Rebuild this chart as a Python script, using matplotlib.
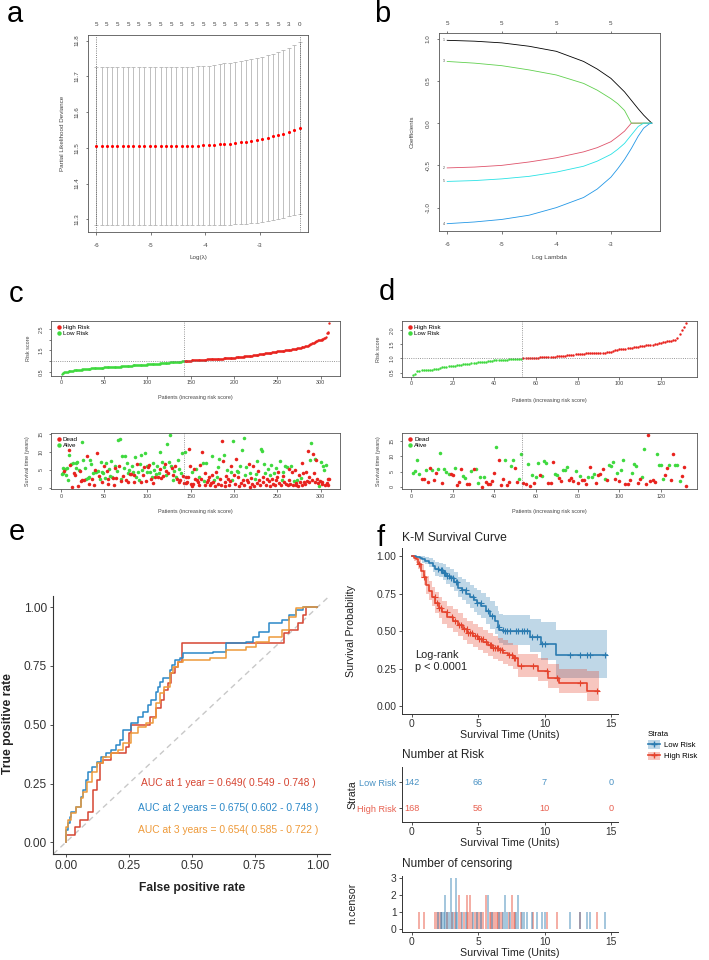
import numpy as np
import matplotlib
matplotlib.use("Agg")
import matplotlib.pyplot as plt
from matplotlib.lines import Line2D
from matplotlib.patches import Patch

plt.rcParams['font.family'] = ['Liberation Sans', 'DejaVu Sans']
plt.rcParams['axes.unicode_minus'] = False

# ---------------- data ----------------
# a: cross-validation curve
cv_loglam = [-6.00, -5.90, -5.81, -5.71, -5.61, -5.51, -5.41, -5.32, -5.22, -5.12,
             -5.02, -4.92, -4.82, -4.73, -4.63, -4.53, -4.43, -4.33, -4.24, -4.14,
             -4.04, -3.94, -3.84, -3.74, -3.65, -3.55, -3.45, -3.35, -3.25, -3.16,
             -3.06, -2.96, -2.86, -2.76, -2.67, -2.57, -2.47, -2.37, -2.27]
cv_mean = [11.505, 11.505, 11.505, 11.505, 11.505, 11.505, 11.505, 11.505, 11.505, 11.505,
           11.505, 11.505, 11.505, 11.505, 11.505, 11.505, 11.506, 11.506, 11.506, 11.506,
           11.507, 11.508, 11.509, 11.510, 11.511, 11.512, 11.514, 11.515, 11.517, 11.519,
           11.522, 11.525, 11.528, 11.532, 11.536, 11.540, 11.545, 11.550, 11.555]
cv_upper = [11.725, 11.725, 11.725, 11.725, 11.725, 11.725, 11.725, 11.725, 11.725, 11.725,
            11.725, 11.725, 11.725, 11.725, 11.725, 11.725, 11.726, 11.726, 11.727, 11.728,
            11.729, 11.730, 11.732, 11.734, 11.736, 11.738, 11.740, 11.742, 11.745, 11.748,
            11.751, 11.755, 11.759, 11.763, 11.768, 11.774, 11.780, 11.787, 11.795]
cv_lower = [11.285, 11.285, 11.285, 11.285, 11.285, 11.285, 11.285, 11.285, 11.285, 11.285,
            11.285, 11.285, 11.285, 11.285, 11.285, 11.285, 11.285, 11.285, 11.285, 11.285,
            11.285, 11.285, 11.285, 11.285, 11.285, 11.285, 11.286, 11.287, 11.288, 11.289,
            11.291, 11.293, 11.295, 11.298, 11.301, 11.304, 11.308, 11.312, 11.316]
cv_nz = [5, 5, 5, 5, 5, 5, 5, 5, 5, 5, 5, 5, 5, 5, 5, 5, 5, 5, 3, 0]

# b: coefficient paths
path_loglam = [-6.0, -5.5, -5.0, -4.5, -4.0, -3.5, -3.25, -3.0, -2.875, -2.75, -2.625, -2.5, -2.4, -2.3, -2.25]
coef_g1 = [0.98, 0.97, 0.95, 0.91, 0.85, 0.73, 0.64, 0.53, 0.45, 0.37, 0.27, 0.17, 0.095, 0.03, 0.0]
coef_g2 = [-0.53, -0.52, -0.50, -0.46, -0.41, -0.34, -0.29, -0.22, -0.16, -0.095, 0.0, 0.0, 0.0, 0.0, 0.0]
coef_g3 = [0.73, 0.71, 0.68, 0.63, 0.57, 0.47, 0.39, 0.29, 0.23, 0.15, 0.0, 0.0, 0.0, 0.0, 0.0]
coef_g4 = [-1.19, -1.17, -1.14, -1.09, -1.00, -0.88, -0.78, -0.64, -0.54, -0.43, -0.30, -0.155, -0.06, -0.01, 0.0]
coef_g5 = [-0.69, -0.68, -0.66, -0.63, -0.58, -0.51, -0.45, -0.37, -0.31, -0.24, -0.14, -0.04, 0.0, 0.0, 0.0]
path_df_at = [-6, -5, -4, -3]
path_df = [5, 5, 5, 5]

# c: training cohort, sorted risk score, survival time, status (1 = dead)
c_nlow = 142
c_cutoff = 1.0
c_risk = [0.42, 0.44, 0.46, 0.48, 0.49, 0.50, 0.51, 0.52, 0.53, 0.54,
          0.55, 0.55, 0.56, 0.56, 0.57, 0.57, 0.58, 0.58, 0.59, 0.59,
          0.60, 0.60, 0.61, 0.61, 0.62, 0.62, 0.62, 0.63, 0.63, 0.64,
          0.64, 0.65, 0.65, 0.65, 0.66, 0.66, 0.66, 0.67, 0.67, 0.67,
          0.68, 0.68, 0.69, 0.69, 0.69, 0.70, 0.70, 0.70, 0.70, 0.71,
          0.71, 0.71, 0.71, 0.72, 0.72, 0.72, 0.72, 0.73, 0.73, 0.73,
          0.73, 0.74, 0.74, 0.74, 0.74, 0.75, 0.75, 0.75, 0.75, 0.76,
          0.76, 0.76, 0.77, 0.77, 0.77, 0.78, 0.78, 0.78, 0.78, 0.79,
          0.79, 0.79, 0.80, 0.80, 0.80, 0.81, 0.81, 0.81, 0.82, 0.82,
          0.82, 0.82, 0.83, 0.83, 0.83, 0.84, 0.84, 0.84, 0.84, 0.85,
          0.85, 0.85, 0.86, 0.86, 0.86, 0.87, 0.87, 0.87, 0.88, 0.88,
          0.88, 0.89, 0.89, 0.89, 0.90, 0.90, 0.90, 0.91, 0.91, 0.91,
          0.92, 0.92, 0.93, 0.93, 0.93, 0.94, 0.94, 0.95, 0.95, 0.95,
          0.96, 0.96, 0.96, 0.97, 0.97, 0.97, 0.98, 0.98, 0.98, 0.99,
          0.99, 1.00,
          1.00, 1.00, 1.01, 1.01, 1.01, 1.02, 1.02, 1.02,
          1.03, 1.03, 1.03, 1.04, 1.04, 1.04, 1.05, 1.05, 1.05, 1.05,
          1.06, 1.06, 1.06, 1.06, 1.07, 1.07, 1.07, 1.07, 1.08, 1.08,
          1.08, 1.08, 1.09, 1.09, 1.09, 1.09, 1.10, 1.10, 1.10, 1.11,
          1.11, 1.11, 1.11, 1.12, 1.12, 1.12, 1.12, 1.13, 1.13, 1.13,
          1.13, 1.14, 1.14, 1.14, 1.14, 1.15, 1.15, 1.15, 1.16, 1.16,
          1.16, 1.17, 1.17, 1.18, 1.18, 1.19, 1.19, 1.20, 1.20, 1.21,
          1.21, 1.22, 1.22, 1.23, 1.23, 1.24, 1.24, 1.25, 1.25, 1.26,
          1.26, 1.27, 1.27, 1.28, 1.29, 1.29, 1.30, 1.30, 1.31, 1.32,
          1.32, 1.33, 1.34, 1.34, 1.35, 1.36, 1.36, 1.37, 1.38, 1.38,
          1.39, 1.40, 1.40, 1.41, 1.42, 1.42, 1.43, 1.44, 1.44, 1.45,
          1.46, 1.46, 1.47, 1.47, 1.48, 1.48, 1.49, 1.49, 1.50, 1.50,
          1.51, 1.51, 1.52, 1.52, 1.53, 1.53, 1.54, 1.55, 1.55, 1.56,
          1.57, 1.58, 1.59, 1.60, 1.61, 1.62, 1.63, 1.64, 1.65, 1.66,
          1.67, 1.68, 1.69, 1.70, 1.72, 1.74, 1.76, 1.78, 1.80, 1.82,
          1.84, 1.86, 1.88, 1.90, 1.92, 1.94, 1.96, 1.97, 1.98, 1.99,
          2.00, 2.02, 2.04, 2.06, 2.08, 2.10, 2.30, 2.32, 2.35, 2.78]
c_time = [3.8, 4.2, 5.5, 4.8, 5.2, 3.5, 5.6, 2.1, 10.7, 9.2,
          6.3, 6.6, 0.1, 6.8, 4.0, 3.5, 7.0, 5.5, 7.3, 0.5,
          5.0, 4.8, 1.8, 2.0, 12.7, 7.9, 2.0, 5.5, 2.3, 8.8,
          2.6, 3.0, 0.9, 7.8, 6.5, 2.5, 4.0, 0.8, 4.5, 5.0,
          4.3, 9.6, 4.8, 3.3, 2.5, 7.3, 4.5, 1.7, 4.0, 6.0,
          2.7, 7.0, 4.7, 2.5, 1.0, 5.2, 3.2, 7.6, 3.0, 2.8,
          0.6, 5.5, 6.0, 2.8, 4.8, 13.4, 6.2, 13.6, 1.8, 2.5,
          8.8, 3.3, 5.5, 8.8, 2.0, 6.8, 1.6, 4.0, 5.0, 3.8,
          3.8, 6.2, 4.3, 3.6, 1.6, 8.6, 3.0, 6.5, 4.5, 2.0,
          6.6, 9.1, 1.6, 5.0, 3.5, 5.7, 9.6, 1.8, 6.0, 4.5,
          5.8, 6.3, 4.5, 2.5, 3.0, 1.3, 6.8, 5.0, 2.9, 3.8,
          6.2, 3.0, 4.0, 10.0, 5.2, 2.6, 7.2, 3.3, 5.8, 6.5,
          4.8, 3.5, 12.2, 4.0, 7.1, 14.7, 6.2, 5.5, 2.0, 3.6,
          4.6, 6.0, 3.0, 2.5, 7.8, 1.5, 5.3, 2.2, 4.0, 9.8,
          3.2, 1.2,
          10.0, 1.2, 3.0, 1.5, 2.9, 11.0, 6.0, 1.0,
          0.5, 4.5, 1.0, 5.2, 2.5, 5.3, 2.0, 1.5, 0.8, 3.0,
          6.3, 2.5, 10.0, 7.0, 1.8, 0.8, 4.0, 6.8, 1.5, 2.0,
          3.0, 0.8, 1.2, 9.0, 3.5, 1.5, 2.0, 0.5, 4.5, 3.0,
          5.7, 1.0, 8.0, 2.5, 0.8, 13.1, 7.5, 9.2, 1.5, 0.5,
          3.3, 5.0, 2.5, 0.7, 1.8, 4.3, 6.0, 2.0, 13.1, 3.5,
          1.0, 8.0, 4.7, 3.0, 4.5, 0.5, 6.1, 1.2, 10.5, 2.0,
          14.1, 0.8, 3.5, 5.7, 2.0, 1.5, 6.5, 0.3, 4.0, 2.8,
          1.0, 6.0, 0.5, 2.3, 3.8, 7.5, 1.2, 4.8, 2.0, 0.6,
          11.0, 10.2, 3.0, 1.5, 6.5, 4.0, 0.8, 2.5, 5.3, 1.8,
          3.5, 0.5, 6.3, 2.5, 1.0, 4.2, 0.8, 5.5, 2.0, 3.0,
          4.3, 1.2, 7.5, 0.6, 2.2, 3.3, 4.5, 1.5, 6.0, 0.9,
          5.8, 0.7, 2.0, 5.3, 1.0, 6.0, 4.5, 0.6, 1.8, 5.0,
          0.8, 1.2, 2.0, 0.5, 3.5, 1.5, 2.8, 0.8, 6.8, 4.0,
          1.6, 1.0, 4.5, 1.8, 10.2, 3.0, 1.5, 7.8, 12.6, 2.0,
          9.4, 4.2, 1.5, 8.1, 7.8, 2.5, 1.2, 0.5, 1.8, 7.2,
          1.5, 1.0, 6.0, 5.0, 0.8, 6.3, 1.3, 2.3, 0.6, 2.3]
c_dead = [0, 0, 0, 1, 0, 0, 0, 0, 1, 0,
          1, 0, 1, 0, 1, 1, 0, 0, 0, 1,
          0, 1, 1, 1, 0, 0, 1, 0, 0, 1,
          0, 0, 1, 0, 0, 1, 0, 1, 0, 1,
          0, 1, 0, 1, 0, 0, 0, 1, 0, 1,
          0, 0, 1, 1, 1, 0, 0, 0, 0, 1,
          1, 1, 0, 1, 0, 0, 1, 0, 1, 0,
          0, 1, 0, 0, 1, 0, 1, 0, 0, 1,
          1, 0, 0, 1, 1, 0, 0, 1, 0, 0,
          0, 0, 1, 0, 1, 1, 0, 1, 0, 0,
          1, 1, 0, 1, 0, 1, 0, 0, 1, 0,
          0, 1, 0, 0, 1, 1, 0, 1, 0, 1,
          1, 0, 0, 1, 0, 0, 0, 1, 0, 1,
          0, 1, 0, 1, 0, 1, 0, 1, 0, 0,
          1, 1,
          0, 1, 1, 1, 1, 1, 1, 1,
          1, 0, 1, 1, 1, 0, 1, 1, 1, 0,
          1, 1, 1, 0, 0, 1, 1, 0, 1, 1,
          1, 1, 1, 0, 1, 1, 0, 1, 1, 0,
          0, 1, 0, 1, 1, 1, 1, 0, 1, 1,
          1, 0, 1, 1, 1, 0, 1, 0, 0, 1,
          1, 1, 0, 1, 0, 1, 0, 1, 0, 1,
          0, 1, 0, 0, 1, 1, 1, 1, 0, 1,
          1, 1, 1, 0, 0, 0, 1, 1, 1, 1,
          0, 0, 1, 1, 0, 0, 1, 1, 0, 1,
          0, 1, 0, 1, 1, 0, 1, 0, 1, 1,
          1, 1, 0, 1, 0, 1, 0, 1, 0, 1,
          0, 1, 1, 1, 1, 0, 1, 1, 0, 1,
          1, 1, 0, 1, 1, 1, 0, 1, 1, 1,
          1, 1, 1, 1, 1, 1, 1, 0, 0, 1,
          1, 1, 1, 0, 1, 1, 1, 0, 1, 0,
          1, 1, 0, 0, 1, 0, 1, 1, 1, 1]
c_risk_ticks = [0.5, 1.0, 1.5, 2.0, 2.5]
c_risk_ticklabels = ['0.5', '', '1.5', '', '2.5']

# d: validation cohort
d_nlow = 53
d_cutoff = 1.0
d_risk = [0.43, 0.46, 0.55, 0.57, 0.58, 0.59, 0.60, 0.60, 0.61, 0.61,
          0.62, 0.62, 0.63, 0.68, 0.69, 0.70, 0.71, 0.72, 0.73, 0.74,
          0.75, 0.76, 0.77, 0.78, 0.79, 0.80, 0.81, 0.82, 0.83, 0.84,
          0.85, 0.86, 0.87, 0.88, 0.88, 0.89, 0.90, 0.91, 0.92, 0.93,
          0.94, 0.94, 0.95, 0.95, 0.96, 0.96, 0.97, 0.97, 0.97, 0.98,
          0.98, 0.99, 0.99,
          1.00, 1.00, 1.01, 1.01, 1.02, 1.02, 1.03,
          1.03, 1.04, 1.04, 1.05, 1.05, 1.06, 1.06, 1.07, 1.07, 1.08,
          1.08, 1.09, 1.09, 1.10, 1.11, 1.12, 1.13, 1.14, 1.15, 1.16,
          1.16, 1.17, 1.17, 1.18, 1.18, 1.19, 1.19, 1.20, 1.20, 1.20,
          1.21, 1.21, 1.21, 1.22, 1.22, 1.22, 1.28, 1.29, 1.30, 1.32,
          1.33, 1.34, 1.35, 1.36, 1.37, 1.38, 1.39, 1.40, 1.41, 1.43,
          1.44, 1.45, 1.46, 1.47, 1.48, 1.49, 1.50, 1.51, 1.53, 1.55,
          1.57, 1.59, 1.61, 1.62, 1.63, 1.64, 1.66, 1.71, 1.86, 2.02,
          2.12, 2.25]
d_time = [4.6, 5.2, 8.7, 4.3, 2.7, 2.5, 5.4, 1.5, 6.3, 5.6,
          2.4, 4.6, 5.8, 11.2, 1.3, 5.8, 4.9, 4.1, 4.1, 3.8,
          6.2, 0.5, 1.6, 6.0, 3.6, 2.9, 0.9, 0.9, 5.2, 5.9,
          5.8, 1.4, 3.3, 0.0, 3.3, 1.6, 0.8, 0.9, 1.8, 4.7,
          13.0, 8.9, 0.5, 2.5, 8.7, 0.5, 1.6, 6.8, 8.7, 6.3,
          1.6, 2.7, 10.9,
          1.3, 0.9, 7.6, 0.2, 4.0, 1.4, 3.3,
          7.8, 4.0, 3.6, 8.4, 7.9, 1.4, 1.4, 8.2, 4.3, 3.8,
          3.0, 1.8, 5.4, 5.4, 6.5, 2.2, 2.9, 1.8, 5.1, 1.4,
          3.5, 2.2, 2.4, 1.1, 3.3, 6.5, 3.3, 4.3, 1.3, 3.8,
          4.3, 6.0, 2.5, 2.4, 7.1, 6.8, 8.2, 2.6, 4.6, 1.8,
          5.4, 8.7, 1.1, 1.1, 2.2, 4.6, 7.6, 6.8, 1.3, 2.5,
          3.3, 12.5, 0.9, 17.1, 2.0, 2.4, 1.6, 10.9, 7.1, 7.1,
          2.6, 3.8, 6.2, 7.1, 2.2, 10.9, 7.3, 7.1, 1.8, 3.6,
          6.5, 0.2]
d_dead = [0, 0, 0, 0, 1, 1, 0, 1, 1, 0,
          1, 1, 0, 0, 1, 0, 0, 0, 1, 1,
          0, 1, 1, 1, 0, 0, 1, 1, 0, 1,
          0, 0, 0, 1, 0, 1, 1, 1, 1, 1,
          0, 1, 1, 1, 0, 1, 1, 0, 0, 1,
          1, 0, 0,
          1, 1, 0, 1, 0, 1, 0,
          0, 1, 0, 0, 0, 1, 1, 1, 0, 0,
          1, 1, 0, 0, 0, 1, 1, 1, 0, 1,
          0, 1, 1, 1, 0, 1, 0, 0, 1, 1,
          1, 1, 0, 1, 0, 0, 0, 1, 0, 1,
          0, 0, 1, 1, 1, 0, 0, 0, 1, 1,
          0, 0, 1, 1, 1, 1, 1, 0, 0, 0,
          0, 1, 1, 0, 1, 1, 0, 0, 0, 1,
          1, 1]
d_risk_ticks = [0.5, 1.0, 1.5, 2.0]
d_risk_ticklabels = ['0.5', '1.0', '1.5', '2.0']

# e: time-dependent ROC
roc1_fpr = [0, 0, 0.036, 0.055, 0.089, 0.106, 0.122, 0.135, 0.148, 0.181, 0.240, 0.251, 0.260, 0.333,
            0.359, 0.379, 0.392, 0.406, 0.419, 0.432, 0.445, 0.462, 0.868, 0.888, 0.921, 0.941, 0.954, 1.0]
roc1_tpr = [0, 0.031, 0.064, 0.095, 0.130, 0.223, 0.265, 0.336, 0.350, 0.379, 0.407, 0.464, 0.499, 0.534,
            0.570, 0.605, 0.648, 0.676, 0.719, 0.747, 0.768, 0.846, 0.889, 0.903, 0.931, 0.967, 1.0, 1.0]
roc2_fpr = [0, 0, 0.009, 0.016, 0.022, 0.042, 0.062, 0.069, 0.079, 0.089, 0.102, 0.122, 0.141, 0.161,
            0.181, 0.201, 0.214, 0.227, 0.260, 0.287, 0.306, 0.326, 0.340, 0.359, 0.366, 0.373, 0.386,
            0.412, 0.423, 0.432, 0.452, 0.465, 0.584, 0.637, 0.716, 0.742, 0.769, 0.808, 0.861, 0.888,
            0.914, 0.941, 1.0]
roc2_tpr = [0, 0.052, 0.081, 0.109, 0.130, 0.152, 0.194, 0.223, 0.265, 0.301, 0.322, 0.343, 0.364, 0.379,
            0.393, 0.414, 0.435, 0.478, 0.506, 0.534, 0.556, 0.584, 0.605, 0.641, 0.662, 0.683, 0.697,
            0.733, 0.754, 0.775, 0.783, 0.804, 0.811, 0.846, 0.853, 0.875, 0.896, 0.931, 0.946, 0.967,
            0.988, 1.0, 1.0]
roc3_fpr = [0, 0, 0.009, 0.022, 0.042, 0.062, 0.069, 0.082, 0.102, 0.122, 0.148, 0.181, 0.207, 0.227,
            0.260, 0.287, 0.320, 0.346, 0.359, 0.373, 0.392, 0.412, 0.425, 0.445, 0.465, 0.571, 0.637,
            0.716, 0.756, 0.808, 0.861, 0.888, 0.914, 0.941, 1.0]
roc3_tpr = [0, 0.067, 0.095, 0.123, 0.152, 0.187, 0.215, 0.258, 0.301, 0.336, 0.364, 0.379, 0.393, 0.421,
            0.464, 0.492, 0.506, 0.527, 0.591, 0.634, 0.662, 0.719, 0.747, 0.768, 0.775, 0.783, 0.818,
            0.832, 0.853, 0.875, 0.903, 0.960, 0.995, 1.0, 1.0]
auc_labels = ["AUC at 1 year = 0.649( 0.549 - 0.748 )",
              "AUC at 2 years = 0.675( 0.602 - 0.748 )",
              "AUC at 3 years = 0.654( 0.585 - 0.722 )"]

# f: Kaplan-Meier
km_low_t = [0, 0.3, 0.6, 0.8, 1.0, 1.3, 1.6, 1.8, 2.1, 2.4, 2.6, 2.9, 3.2, 3.5, 3.8,
            4.1, 4.4, 4.7, 4.9, 5.2, 5.6, 5.9, 6.25, 6.5, 6.6, 6.9, 8.9, 9.7, 10.85, 14.7]
km_low_s = [1.0, .995, .99, .98, .97, .955, .935, .915, .905, .89, .87, .855, .83, .79, .775,
            .75, .73, .705, .69, .665, .636, .60, .57, .53, .51, .498, .458, .417, .342, .342]
km_low_hi = [1.0, 1.0, 1.0, 1.0, .995, .99, .975, .96, .955, .945, .93, .915, .895, .86, .85,
             .825, .81, .79, .775, .755, .73, .70, .67, .635, .615, .605, .58, .56, .51, .51]
km_low_lo = [1.0, .985, .975, .955, .945, .925, .895, .87, .86, .84, .815, .795, .77, .725, .705,
             .68, .655, .63, .61, .585, .55, .515, .48, .44, .42, .405, .36, .31, .185, .185]
km_high_t = [0, 0.2, 0.3, 0.5, 0.7, 0.9, 1.1, 1.3, 1.55, 1.8, 2.05, 2.3, 2.7, 3.1, 3.5, 3.85,
             4.2, 4.6, 5.0, 5.4, 5.75, 6.1, 6.5, 6.9, 7.25, 7.6, 8.0, 9.5, 10.3, 11.1, 13.2, 14.1]
km_high_s = [1.0, .99, .98, .95, .90, .86, .81, .77, .73, .69, .655, .625, .595, .57, .54, .513,
             .49, .47, .45, .43, .41, .39, .375, .357, .34, .324, .268, .234, .19, .156, .10, .10]
km_high_hi = [1.0, 1.0, 1.0, .985, .945, .91, .87, .835, .795, .76, .725, .70, .67, .645, .62, .59,
              .57, .55, .53, .51, .49, .47, .455, .44, .42, .405, .35, .32, .28, .25, .235, .235]
km_high_lo = [1.0, .97, .955, .915, .855, .81, .75, .705, .665, .62, .585, .55, .52, .495, .465, .44,
              .415, .395, .375, .355, .335, .315, .30, .28, .265, .25, .195, .165, .12, .09, .035, .035]

low_cens_t = [2.0, 2.2, 2.32, 2.45, 2.52, 2.70, 2.82, 2.94, 3.14, 3.32, 3.44, 3.82, 4.07, 4.64, 4.94,
              5.19, 5.74, 6.06, 6.56, 6.89, 7.06, 7.19, 7.44, 7.86, 8.01, 8.31, 8.44, 8.68, 9.06, 9.43,
              9.81, 10.06, 11.93, 12.68, 13.23, 13.43, 14.55]
low_cens_n = [1, 1, 1, 1, 2, 1, 1, 3, 1, 3, 1, 1, 1, 1, 1,
              1, 2, 1, 1, 1, 2, 1, 1, 1, 2, 1, 1, 1, 1, 1,
              1, 1, 1, 1, 1, 1, 1]
high_cens_t = [0.57, 0.95, 1.77, 1.90, 2.07, 2.20, 2.65, 3.07, 3.24, 3.57, 3.69, 3.94, 4.19, 4.24, 4.39,
               4.57, 4.74, 4.89, 5.07, 5.24, 5.39, 5.57, 5.89, 5.99, 6.14, 6.24, 6.39, 6.49, 6.64, 6.81,
               7.31, 7.56, 7.69, 7.81, 8.24, 9.13, 10.18, 10.93, 12.68, 13.93]
high_cens_n = [1, 1, 1, 1, 1, 1, 1, 1, 1, 2, 1, 1, 2, 1, 2,
               1, 1, 1, 1, 1, 1, 2, 1, 1, 1, 1, 1, 1, 1, 1,
               1, 2, 1, 1, 1, 1, 1, 1, 1, 1]

risk_times = [0, 5, 10, 15]
low_at_risk = [142, 66, 7, 0]
high_at_risk = [168, 56, 10, 0]

# ---------------- figure ----------------
W, H = 709, 960
fig = plt.figure(figsize=(W / 100, H / 100), dpi=100)

def px_axes(l, r, t, b):
    return fig.add_axes([l / W, 1 - b / H, (r - l) / W, (b - t) / H])

def ftext(x, y, s, **kw):
    kw.setdefault('ha', 'center')
    kw.setdefault('va', 'center')
    return fig.text(x / W, 1 - y / H, s, **kw)

def base_style(ax, fs, xpad, ypad):
    for sp in ax.spines.values():
        sp.set_linewidth(0.6)
        sp.set_color('#555555')
    ax.tick_params(length=1.8, width=0.5, colors='#444444', labelsize=fs)
    ax.tick_params(axis='x', pad=xpad)
    ax.tick_params(axis='y', pad=ypad, labelrotation=90)
    for t in ax.get_yticklabels():
        t.set_va('center')

def rpad(vals, frac=0.04):
    lo, hi = min(vals), max(vals)
    d = (hi - lo) * frac
    return lo - d, hi + d

RED, GREEN = '#E8231E', '#3FD93F'
txt_gray = '#444444'

# panel letters
for x, y, s in [(7, 14, 'a'), (374, 14, 'b'), (9, 294, 'c'), (379, 292, 'd'), (9, 532, 'e'), (377, 538, 'f')]:
    ftext(x, y, s, ha='left', fontsize=21)

# ---- a ----
ax = px_axes(88, 308, 35, 232)
lam = np.array(cv_loglam)
mean = np.array(cv_mean)
ax.errorbar(lam, mean, yerr=[mean - np.array(cv_lower), np.array(cv_upper) - mean], fmt='none',
            ecolor='#B5B5B5', elinewidth=0.6, capsize=1.3, capthick=0.6)
ax.scatter(lam, mean, s=5, color='red', linewidths=0, zorder=3)
ax.axvline(lam[0], ls=':', color='#555555', lw=0.6)
ax.axvline(lam[-1], ls=':', color='#555555', lw=0.6)
ax.set_xlim(*rpad(cv_loglam))
ax.set_ylim(*rpad(cv_lower + cv_upper))
ax.set_xticks([-6, -5, -4, -3])
ax.set_yticks([11.3, 11.4, 11.5, 11.6, 11.7, 11.8])
base_style(ax, 4.5, 6, 4.5)
for x, n in zip(lam[::2], cv_nz):
    ax.text(x, 1 + 11 / 197, str(n), transform=ax.get_xaxis_transform(), ha='center', va='center',
            fontsize=4.5, color=txt_gray)
ftext(198, 258, 'Log(\u03bb)', fontsize=4.5, color=txt_gray)
ftext(62, 133, 'Partial Likelihood Deviance', fontsize=4.5, rotation=90, color=txt_gray)

# ---- b ----
ax = px_axes(439, 660, 33, 231)
pcols = ['black', '#DF536B', '#61D04F', '#2297E6', '#28E2E5']
for coefs, col, lab in zip([coef_g1, coef_g2, coef_g3, coef_g4, coef_g5], pcols, ['1', '2', '3', '4', '5']):
    ax.plot(path_loglam, coefs, color=col, lw=0.6)
    ax.text(path_loglam[0] - 0.05, coefs[0], lab, fontsize=2.5, ha='right', va='center', color=txt_gray)
allc = coef_g1 + coef_g2 + coef_g3 + coef_g4 + coef_g5
ax.set_xlim(*rpad(path_loglam))
ax.set_ylim(*rpad(allc))
ax.set_xticks([-6, -5, -4, -3])
ax.set_yticks([-1.0, -0.5, 0.0, 0.5, 1.0])
base_style(ax, 4.5, 6, 4.5)
sec = ax.secondary_xaxis('top')
sec.set_xticks(path_df_at)
sec.set_xticklabels([str(v) for v in path_df])
sec.tick_params(length=1.8, width=0.5, colors=txt_gray, labelsize=4.5, pad=3)
sec.spines['top'].set_visible(False)
ftext(549, 258, 'Log Lambda', fontsize=4.5, color=txt_gray)
ftext(412, 132, 'Coefficients', fontsize=4.5, rotation=90, color=txt_gray)

# ---- c / d ----
def risk_panels(box_top, box_bot, risk, time, dead, nlow, cutoff, xticks, rticks, rlabels):
    l, r, t1, b1 = box_top
    t2, b2 = box_bot
    n = len(risk)
    pid = np.arange(1, n + 1)
    risk = np.array(risk)
    hi = pid > nlow
    ax1 = px_axes(l, r, t1, b1)
    ax1.scatter(pid[~hi], risk[~hi], s=3, color=GREEN, linewidths=0)
    ax1.scatter(pid[hi], risk[hi], s=3, color=RED, linewidths=0)
    ax1.axhline(cutoff, ls=':', color='#777777', lw=0.6)
    ax1.axvline(nlow + 0.5, ls=':', color='#777777', lw=0.6)
    ax1.set_xlim(*rpad([1, n]))
    ax1.set_ylim(*rpad(list(risk)))
    ax1.set_xticks(xticks)
    ax1.set_yticks(rticks)
    ax1.set_yticklabels(rlabels)
    base_style(ax1, 3.9, 1.5, 3.5)
    ax1.legend(handles=[Line2D([], [], marker='o', ls='', color=RED, ms=2.2, label='High Risk'),
                        Line2D([], [], marker='o', ls='', color=GREEN, ms=2.2, label='Low Risk')],
               loc='upper left', frameon=False, fontsize=4.5, handletextpad=0.1, borderaxespad=0.2,
               labelspacing=0.1, handlelength=1.2)
    ax2 = px_axes(l, r, t2, b2)
    time = np.array(time)
    dead = np.array(dead) == 1
    ax2.scatter(pid[~dead], time[~dead], s=6.5, color=GREEN, linewidths=0)
    ax2.scatter(pid[dead], time[dead], s=6.5, color=RED, linewidths=0)
    ax2.axvline(nlow + 0.5, ls=':', color='#777777', lw=0.6)
    ax2.set_xlim(*rpad([1, n]))
    ax2.set_ylim(*rpad(list(time)))
    ax2.set_xticks(xticks)
    ax2.set_yticks([0, 5, 10, 15])
    base_style(ax2, 3.9, 1.5, 3.5)
    ax2.legend(handles=[Line2D([], [], marker='o', ls='', color=RED, ms=2.2, label='Dead'),
                        Line2D([], [], marker='o', ls='', color=GREEN, ms=2.2, label='Alive')],
               loc='upper left', frameon=False, fontsize=4.5, handletextpad=0.1, borderaxespad=0.2,
               labelspacing=0.1, handlelength=1.2)
    return ax1, ax2

risk_panels((51, 340, 320.7, 375.7), (433.3, 489.3), c_risk, c_time, c_dead, c_nlow, c_cutoff,
            [0, 50, 100, 150, 200, 250, 300], c_risk_ticks, c_risk_ticklabels)
ftext(195.5, 398, 'Patients (increasing risk score)', fontsize=3.9, color=txt_gray)
ftext(195.5, 512, 'Patients (increasing risk score)', fontsize=3.9, color=txt_gray)
ftext(28, 348, 'Risk score', fontsize=3.9, rotation=90, color=txt_gray)
ftext(28, 461, 'Survival time (years)', fontsize=3.9, rotation=90, color=txt_gray)

risk_panels((402.3, 696.7, 321, 376.7), (432.7, 489), d_risk, d_time, d_dead, d_nlow, d_cutoff,
            [0, 20, 40, 60, 80, 100, 120], d_risk_ticks, d_risk_ticklabels)
ftext(549.5, 400, 'Patients (increasing risk score)', fontsize=3.9, color=txt_gray)
ftext(549.5, 512, 'Patients (increasing risk score)', fontsize=3.9, color=txt_gray)
ftext(379, 349, 'Risk score', fontsize=3.9, rotation=90, color=txt_gray)
ftext(379, 461, 'Survival time (years)', fontsize=3.9, rotation=90, color=txt_gray)

# ---- e ----
ROC_COLS = ['#D64532', '#2B88C8', '#EE9A3A']
ax = px_axes(53.3, 330, 595.5, 854)
ax.axline((0, 0), (1, 1), ls=(0, (4, 3)), color='#C8C8C8', lw=1.0)
for fpr, tpr, col in zip([roc1_fpr, roc2_fpr, roc3_fpr], [roc1_tpr, roc2_tpr, roc3_tpr], ROC_COLS):
    ax.step(fpr, tpr, where='post', color=col, lw=1.1)
ax.set_xlim(-0.05, 1.05)
ax.set_ylim(-0.05, 1.05)
ticks = [0, 0.25, 0.5, 0.75, 1.0]
ax.set_xticks(ticks)
ax.set_yticks(ticks)
ax.set_xticklabels(['0.00', '0.25', '0.50', '0.75', '1.00'])
ax.set_yticklabels(['0.00', '0.25', '0.50', '0.75', '1.00'])
for s in ['top', 'right']:
    ax.spines[s].set_visible(False)
for s in ['left', 'bottom']:
    ax.spines[s].set_color('#333333')
    ax.spines[s].set_linewidth(0.8)
ax.tick_params(length=2.5, width=0.6, colors='#333333', labelsize=8.6, pad=2)
for y, s, col in zip([0.251, 0.147, 0.052], auc_labels, ROC_COLS):
    ax.text(0.647, y, s, color=col, fontsize=7.4, ha='center', va='center')
ftext(191.7, 888, 'False positive rate', fontsize=8.7, fontweight='bold', color='#222222')
ftext(8, 724, 'True positive rate', fontsize=8.7, fontweight='bold', rotation=90, color='#222222')

# ---- f ----
BLUE, KRED = '#2B7BB0', '#E5432D'
ftext(401.7, 538, 'K-M Survival Curve', ha='left', fontsize=8.7, color='#222222')
ax = px_axes(401.7, 618.3, 548, 714.3)

def step_val(t, s, x):
    i = np.searchsorted(np.array(t), np.array(x), side='right') - 1
    return np.array(s)[i]

for t, s, lo, hi, ct, col in [(km_low_t, km_low_s, km_low_lo, km_low_hi, low_cens_t, BLUE),
                              (km_high_t, km_high_s, km_high_lo, km_high_hi, high_cens_t, KRED)]:
    ax.fill_between(t, lo, hi, step='post', color=col, alpha=0.3, lw=0)
    ax.step(t, s, where='post', color=col, lw=1.2)
    ax.plot(ct, step_val(t, s, ct), ls='', marker='+', ms=4, mew=0.8, color=col)
ax.set_xlim(-0.74, 15.55)
ax.set_ylim(-0.055, 1.055)
ax.set_xticks([0, 5, 10, 15])
ax.set_yticks([0, 0.25, 0.5, 0.75, 1.0])
ax.set_yticklabels(['0.00', '0.25', '0.50', '0.75', '1.00'])

def gg_style(ax):
    for s in ['top', 'right']:
        ax.spines[s].set_visible(False)
    for s in ['left', 'bottom']:
        ax.spines[s].set_color('#333333')
        ax.spines[s].set_linewidth(0.7)
    ax.tick_params(length=2.2, width=0.6, colors='#333333', labelsize=7.4, pad=1.5)

gg_style(ax)
ax.text(0.25, 0.30, 'Log-rank\np < 0.0001', fontsize=7.9, ha='left', va='center', linespacing=1.3,
        color='#222222')
ftext(510, 735, 'Survival Time (Units)', fontsize=7.7, color='#222222')
ftext(351, 631, 'Survival Probability', fontsize=7.7, rotation=90, color='#222222')

# legend
h_low = (Patch(facecolor=BLUE, alpha=0.3, lw=0), Line2D([], [], color=BLUE, lw=1.2, marker='+', ms=4))
h_high = (Patch(facecolor=KRED, alpha=0.3, lw=0), Line2D([], [], color=KRED, lw=1.2, marker='+', ms=4))
leg = fig.legend([h_low, h_high], ['Low Risk', 'High Risk'], title='Strata', loc='upper left',
                 bbox_to_anchor=(641 / W, 1 - 724 / H), frameon=False, fontsize=5.6, title_fontsize=5.6,
                 handlelength=1.6, handleheight=1.3, labelspacing=0.3, handletextpad=0.4)
leg._legend_box.align = 'left'

# number at risk
ftext(401.7, 755, 'Number at Risk', ha='left', fontsize=8.6, color='#222222')
ax = px_axes(401.7, 618.3, 766.7, 822.3)
for x, nl, nh in zip(risk_times, low_at_risk, high_at_risk):
    ax.text(x, 2, str(nl), color='#4A92C4', fontsize=6.6, ha='center', va='center')
    ax.text(x, 1, str(nh), color='#E86050', fontsize=6.6, ha='center', va='center')
ax.set_xlim(-0.74, 15.55)
ax.set_ylim(0.45, 2.6)
ax.set_xticks([0, 5, 10, 15])
ax.set_yticks([1, 2])
ax.set_yticklabels(['High Risk', 'Low Risk'])
gg_style(ax)
ax.tick_params(axis='y', labelsize=6.6)
for lbl, col in zip(ax.get_yticklabels(), ['#E86050', '#4A92C4']):
    lbl.set_color(col)
ftext(510, 843.5, 'Survival Time (Units)', fontsize=7.7, color='#222222')
ftext(352, 795, 'Strata', fontsize=7.7, rotation=90, color='#222222')

# number of censoring
ftext(401.7, 864, 'Number of censoring', ha='left', fontsize=8.6, color='#222222')
ax = px_axes(401.7, 618.3, 875.7, 932)
ax.vlines(high_cens_t, 0, high_cens_n, color=KRED, alpha=0.55, lw=1.1)
ax.vlines(low_cens_t, 0, low_cens_n, color=BLUE, alpha=0.55, lw=1.1)
ax.set_xlim(-0.74, 15.55)
ax.set_ylim(-0.15, 3.12)
ax.set_xticks([0, 5, 10, 15])
ax.set_yticks([0, 1, 2, 3])
gg_style(ax)
ftext(510, 953, 'Survival Time (Units)', fontsize=7.7, color='#222222')
ftext(352, 903, 'n.censor', fontsize=7.7, rotation=90, color='#222222')

fig.savefig('out.png', dpi=100)
